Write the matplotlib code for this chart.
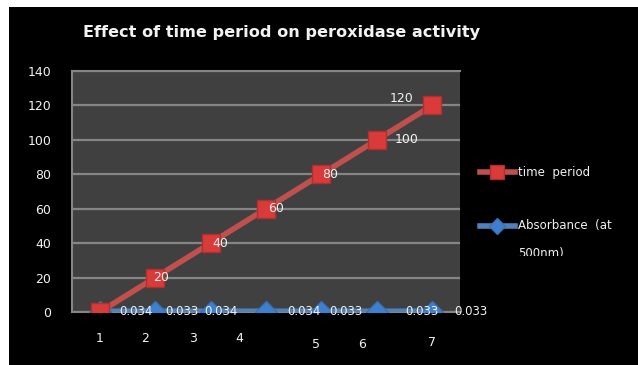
import matplotlib
matplotlib.use("Agg")
from matplotlib import pyplot as plt
from matplotlib.lines import Line2D
from matplotlib.patches import Rectangle

## dados do grafico

categorias = [1, 2, 3, 4, 5, 6, 7]
tempo = [0, 20, 40, 60, 80, 100, 120]
absorbancia = [0.034, 0.033, 0.034, 0.034, 0.033, 0.033, 0.033]
rotulos_x = ["1", "2", "3", "4", "5", "6", "7"]
ticks_y = [0, 20, 40, 60, 80, 100, 120, 140]

## layout (posicoes das etiquetas, como no print original)

pos_rotulos_x = [1, 1.81, 2.69, 3.52, 4.91, 5.74, 7.0]
desce_rotulos_x = [26, 26, 26, 26, 32, 32, 30]
dx_tempo = [None, -2, 2, 2, 1, 18, -19]
dy_tempo = [0, 0, 0, 0, 0, 0, 7]
dx_abs = [20, 10, -6, 21, 8, 28, 22]

vermelho = '#c0504d'
azul = '#4f81bd'
branco = '#f2f2f2'

fig = plt.figure(figsize=(6.38, 3.65), dpi=100, facecolor='white')
fig.add_artist(Rectangle((9/638, 0), 1, 1 - 7/365, transform=fig.transFigure,
                         facecolor='black', edgecolor='none', zorder=0))

ax = fig.add_axes([72/638, 53/365, 388/638, 241/365])
ax.set_facecolor('#404040')

ax.plot(categorias, absorbancia, color=azul, linewidth=5, marker='D',
        markersize=11, markerfacecolor='#3f7fd0', markeredgecolor='#3a6fb0', zorder=3)
ax.plot(categorias, tempo, color=vermelho, linewidth=4, marker='s',
        markersize=13, markerfacecolor='#d93a3a', markeredgecolor='#b03030', zorder=4)

ax.set_xlim(0.5, 7.5)
ax.set_ylim(0, 140)
ax.set_yticks(ticks_y)
ax.set_xticks([])
ax.tick_params(axis='y', length=0, pad=15, labelsize=9, labelcolor=branco)
ax.yaxis.grid(True, color='#858585', linewidth=1.6)
ax.set_axisbelow(True)
for lado in ['top', 'left', 'bottom']:
    ax.spines[lado].set_color('#858585')
    ax.spines[lado].set_linewidth(1.5)
ax.spines['right'].set_visible(False)

# rotulos do eixo x (deslocados como no original)
for p, r, d in zip(pos_rotulos_x, rotulos_x, desce_rotulos_x):
    ax.annotate(r, (p, 0), xycoords=('data', 'axes fraction'),
                xytext=(0, -d), textcoords='offset pixels',
                ha='center', va='center', color=branco, fontsize=9)

# rotulos de dados
for x, y, dx, dy in zip(categorias, tempo, dx_tempo, dy_tempo):
    if dx is None:
        continue
    ax.annotate(str(y), (x, y), xytext=(dx, dy), textcoords='offset pixels',
                ha='left' if dx > 0 or dx == -2 else 'right', va='center',
                color=branco, fontsize=9, zorder=5)
for x, y, dx in zip(categorias, absorbancia, dx_abs):
    ax.annotate(f"{y:.3f}", (x, y), xytext=(dx, 0), textcoords='offset pixels',
                ha='left', va='center', color=branco, fontsize=8.5, zorder=5,
                annotation_clip=False)

fig.text(83/638, 1 - 33/365, "Effect of time period on peroxidase activity",
         color=branco, fontsize=11.6, fontweight='bold', ha='left', va='center')

# legenda feita a mao
fig.add_artist(Line2D([480/638, 515/638], [1 - 172/365] * 2, color=vermelho, linewidth=4))
fig.add_artist(Line2D([497/638], [1 - 172/365], marker='s', markersize=10,
                      markerfacecolor='#d93a3a', markeredgecolor='#b03030'))
fig.add_artist(Line2D([480/638, 515/638], [1 - 226/365] * 2, color=azul, linewidth=4))
fig.add_artist(Line2D([497/638], [1 - 226/365], marker='D', markersize=8,
                      markerfacecolor='#3f7fd0', markeredgecolor='#3a6fb0'))
fig.text(518/638, 1 - 172/365, "time  period", color=branco, fontsize=8.5, va='center')
fig.text(518/638, 1 - 225/365, "Absorbance  (at", color=branco, fontsize=8.5, va='center')
t = fig.text(518/638, 1 - 253/365, "500nm)", color=branco, fontsize=8.5, va='center')
corte = Rectangle((0, 1 - 256/365), 1, 256/365, transform=fig.transFigure)
t.set_clip_path(corte)

fig.savefig("out.png", dpi=100, facecolor=fig.get_facecolor())
